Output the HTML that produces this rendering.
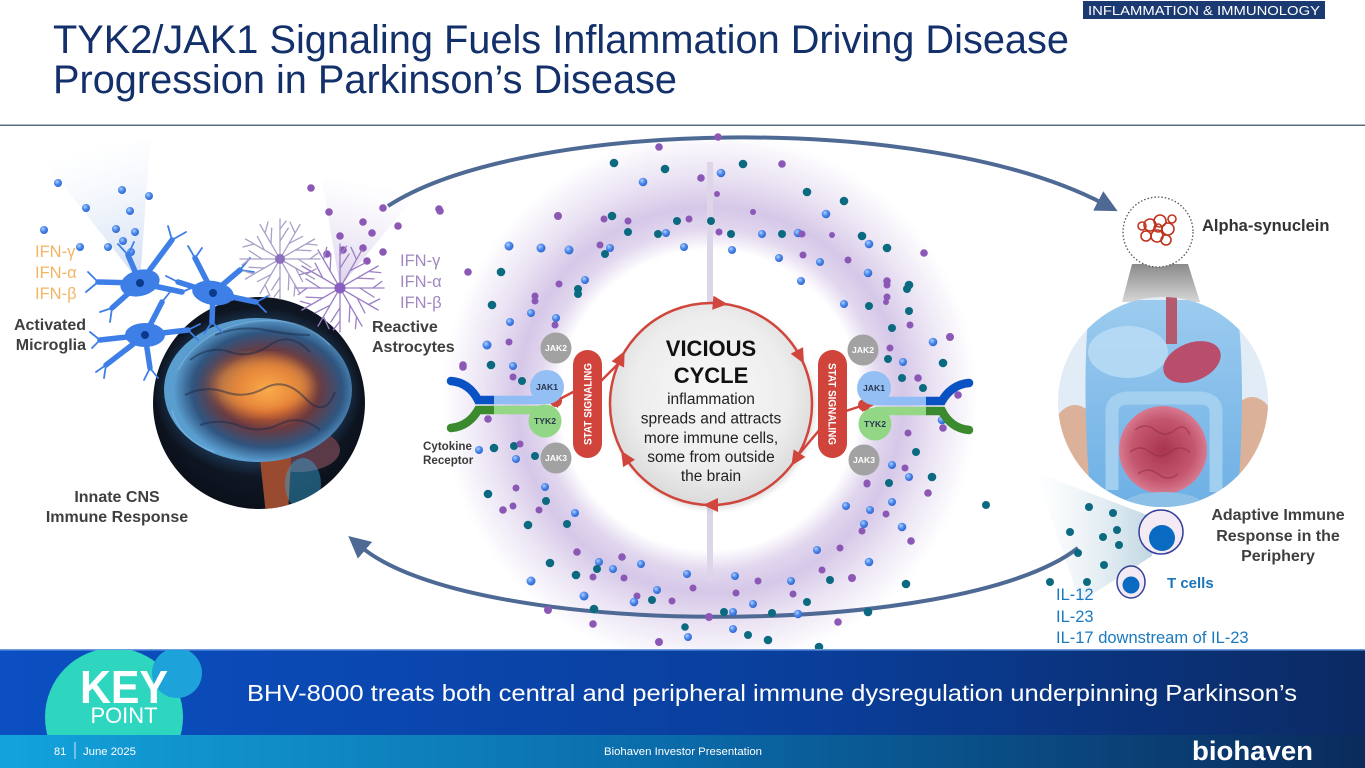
<!DOCTYPE html>
<html><head><meta charset="utf-8">
<style>
html,body{margin:0;padding:0;background:#fff;}
svg{display:block;font-family:"Liberation Sans",Arial,sans-serif;}
.t{fill:#0b6a80}.p{fill:#8b58b5}.b{fill:url(#gb)}
.lbl{font-weight:bold;fill:#3f3f3f;font-size:16px}
</style></head><body>
<svg width="1365" height="768" viewBox="0 0 1365 768" xmlns="http://www.w3.org/2000/svg">
<defs>
 <radialGradient id="gb" cx=".38" cy=".35" r=".7"><stop offset="0" stop-color="#b0d0ff"/><stop offset=".5" stop-color="#4a88ec"/><stop offset="1" stop-color="#2d62c8"/></radialGradient>
 <radialGradient id="ring" cx="710" cy="400" r="268" gradientUnits="userSpaceOnUse">
   <stop offset="0" stop-color="#8c64be" stop-opacity="0"/>
   <stop offset=".56" stop-color="#8c64be" stop-opacity="0"/>
   <stop offset=".64" stop-color="#8c64be" stop-opacity=".26"/>
   <stop offset=".72" stop-color="#8c64be" stop-opacity=".36"/>
   <stop offset=".84" stop-color="#8c64be" stop-opacity=".18"/>
   <stop offset="1" stop-color="#8c64be" stop-opacity="0"/>
 </radialGradient>
 <radialGradient id="vc" cx=".5" cy=".45" r=".55"><stop offset="0" stop-color="#f8f8f8"/><stop offset=".7" stop-color="#ededed"/><stop offset="1" stop-color="#dadada"/></radialGradient>
 <radialGradient id="brainG" cx=".55" cy=".5" r=".5"><stop offset="0" stop-color="#f6a448"/><stop offset=".3" stop-color="#d0602c"/><stop offset=".55" stop-color="#6a3a40"/><stop offset=".8" stop-color="#2f5580"/><stop offset="1" stop-color="#5a9ed0"/></radialGradient>
 <radialGradient id="bglow" cx=".5" cy=".5" r=".5"><stop offset=".6" stop-color="#2e6fa8" stop-opacity=".7"/><stop offset="1" stop-color="#2e6fa8" stop-opacity="0"/></radialGradient>
 <radialGradient id="bbg" cx=".5" cy=".45" r=".55"><stop offset="0" stop-color="#1d2a40"/><stop offset="1" stop-color="#0a0f18"/></radialGradient>
 <radialGradient id="gut" cx=".5" cy=".5" r=".5"><stop offset="0" stop-color="#a8344e"/><stop offset=".7" stop-color="#c4566e"/><stop offset="1" stop-color="#d77a90"/></radialGradient>
 <linearGradient id="torso" x1="0" y1="0" x2="0" y2="1"><stop offset="0" stop-color="#9ccbef"/><stop offset="1" stop-color="#6aaee4"/></linearGradient>
 <linearGradient id="cone" x1="0" y1="0" x2="0" y2="1"><stop offset="0" stop-color="#8a8a8a"/><stop offset="1" stop-color="#d6d6d6"/></linearGradient>
 <linearGradient id="pcone" x1="1155" y1="0" x2="1035" y2="0" gradientUnits="userSpaceOnUse"><stop offset="0" stop-color="#9cbfd2" stop-opacity=".65"/><stop offset="1" stop-color="#cfe0ea" stop-opacity="0"/></linearGradient>
 <linearGradient id="mcone" x1="140" y1="283" x2="95" y2="145" gradientUnits="userSpaceOnUse"><stop offset="0" stop-color="#b8cdee" stop-opacity=".7"/><stop offset="1" stop-color="#dfe8f6" stop-opacity="0"/></linearGradient>
 <linearGradient id="acone" x1="340" y1="287" x2="370" y2="180" gradientUnits="userSpaceOnUse"><stop offset="0" stop-color="#cbbde2" stop-opacity=".7"/><stop offset="1" stop-color="#e8e0f2" stop-opacity="0"/></linearGradient>
 <linearGradient id="kband" x1="0" y1="0" x2="1" y2="0"><stop offset="0" stop-color="#0b4fc2"/><stop offset=".6" stop-color="#0a3e9a"/><stop offset="1" stop-color="#0b2a63"/></linearGradient>
 <linearGradient id="fband" x1="0" y1="0" x2="1" y2="0"><stop offset="0" stop-color="#13a3db"/><stop offset=".5" stop-color="#0a6aa8"/><stop offset="1" stop-color="#0a2b5c"/></linearGradient>
 <clipPath id="brainC"><circle cx="259" cy="403" r="106"/></clipPath>
 <clipPath id="bodyC"><circle cx="1163" cy="402" r="105"/></clipPath>
 <clipPath id="bandC"><rect x="0" y="650" width="1365" height="85"/></clipPath>
 <filter id="blur3"><feGaussianBlur stdDeviation="3"/></filter>
 <filter id="blur6"><feGaussianBlur stdDeviation="6"/></filter>
 <marker id="ah" viewBox="0 0 10 10" refX="3" refY="5" markerWidth="5.5" markerHeight="5.5" orient="auto"><path d="M0,0 L10,5 L0,10 z" fill="#4e6a94"/></marker>
 <g id="astro" fill="none" stroke-linecap="round">
  <path d="M0,0L40,0M0,0L34.6,20M0,0L20,34.6M0,0L0,40M0,0L-20,34.6M0,0L-34.6,20M0,0L-40,0M0,0L-34.6,-20M0,0L-20,-34.6M0,0L0,-40M0,0L20,-34.6M0,0L34.6,-20"/>
  <path d="M18,0L30.9,8.3M15.6,9L22.6,22.6M9,15.6L8.3,30.9M0,18L-8.3,30.9M-9,15.6L-22.6,22.6M-15.6,9L-30.9,8.3M-18,0L-30.9,-8.3M-15.6,-9L-22.6,-22.6M-9,-15.6L-8.3,-30.9M0,-18L8.3,-30.9M9,-15.6L22.6,-22.6M15.6,-9L30.9,-8.3"/>
  <path d="M30,0L38,-6M26,15L36,10M15,26L14,37M0,30L-6,38M-15,26L-10,37M-26,15L-36,12M-30,0L-38,6M-26,-15L-37,-12M-15,-26L-12,-37M0,-30L6,-38M15,-26L10,-37M26,-15L37,-14"/>
 </g>
</defs>

<rect width="1365" height="768" fill="#fff"/>

<!-- header -->
<rect x="1083" y="1" width="242" height="18" fill="#1c3a72"/>
<text x="1088" y="15" font-size="13" fill="#fff" textLength="232" lengthAdjust="spacingAndGlyphs">INFLAMMATION &amp; IMMUNOLOGY</text>
<text x="53" y="53" font-size="39.7" fill="#13306a" textLength="1016" lengthAdjust="spacingAndGlyphs">TYK2/JAK1 Signaling Fuels Inflammation Driving Disease</text>
<text x="53" y="93" font-size="39.7" fill="#13306a" textLength="624" lengthAdjust="spacingAndGlyphs">Progression in Parkinson’s Disease</text>
<rect x="0" y="124.5" width="1365" height="1.5" fill="#5b6b84"/>

<!-- ring glow -->
<circle cx="710" cy="400" r="268" fill="url(#ring)"/>
<rect x="707" y="162" width="6" height="140" fill="#ddd5e8"/>
<rect x="707" y="500" width="6" height="81" fill="#ddd5e8"/>

<!-- cones -->
<polygon points="140,283 36,150 150,140" fill="url(#mcone)"/>
<polygon points="340,287 322,180 420,190" fill="url(#acone)"/>
<polygon points="1132,264 1188,264 1200,302 1122,302" fill="url(#cone)"/>
<polygon points="1155,518 1152,556 1080,602 1035,472" fill="url(#pcone)"/>

<!-- big arrows -->
<path d="M388,206 C520,120 925,110 1104,204" fill="none" stroke="#4e6a94" stroke-width="4" marker-end="url(#ah)"/>
<path d="M1078,548 C960,640 470,640 360,546" fill="none" stroke="#4e6a94" stroke-width="4" marker-end="url(#ah)"/>

<!-- dots -->
<g>
<circle class="p" cx="440" cy="211" r="3.8"/><circle class="t" cx="614" cy="163" r="4.3"/><circle class="p" cx="659" cy="147" r="3.8"/><circle class="p" cx="718" cy="137" r="3.8"/><circle class="t" cx="665" cy="169" r="4.3"/><circle class="b" cx="643" cy="182" r="4.3"/><circle class="p" cx="701" cy="178" r="3.8"/><circle class="b" cx="721" cy="173" r="4.3"/><circle class="p" cx="717" cy="194" r="3"/><circle class="t" cx="743" cy="164" r="4.3"/><circle class="p" cx="782" cy="164" r="3.8"/><circle class="t" cx="807" cy="192" r="4.3"/><circle class="t" cx="844" cy="201" r="4.3"/><circle class="b" cx="826" cy="214" r="4.3"/><circle class="p" cx="753" cy="212" r="3"/><circle class="p" cx="924" cy="253" r="3.8"/><circle class="t" cx="862" cy="236" r="4.3"/><circle class="b" cx="869" cy="244" r="4.3"/><circle class="t" cx="887" cy="248" r="4.3"/><circle class="b" cx="868" cy="273" r="4.3"/><circle class="p" cx="887" cy="281" r="3.8"/><circle class="t" cx="909" cy="285" r="4.3"/><circle class="p" cx="886" cy="302" r="3"/><circle class="p" cx="832" cy="235" r="3"/><circle class="b" cx="798" cy="233" r="4.3"/><circle class="p" cx="802" cy="234" r="3.5"/><circle class="t" cx="782" cy="234" r="4"/><circle class="b" cx="762" cy="234" r="4"/><circle class="t" cx="731" cy="234" r="4"/><circle class="p" cx="719" cy="232" r="3.5"/><circle class="b" cx="732" cy="250" r="4"/><circle class="b" cx="779" cy="258" r="4"/><circle class="b" cx="820" cy="262" r="4"/><circle class="p" cx="803" cy="255" r="3.5"/><circle class="p" cx="848" cy="260" r="3.5"/><circle class="b" cx="801" cy="281" r="4"/><circle class="t" cx="711" cy="221" r="4"/><circle class="p" cx="689" cy="219" r="3.5"/><circle class="t" cx="677" cy="221" r="4"/><circle class="t" cx="658" cy="234" r="4"/><circle class="b" cx="666" cy="233" r="4"/><circle class="t" cx="628" cy="232" r="4"/><circle class="p" cx="628" cy="221" r="3.5"/><circle class="t" cx="612" cy="216" r="4.3"/><circle class="p" cx="604" cy="219" r="3.5"/><circle class="b" cx="684" cy="247" r="4"/><circle class="p" cx="600" cy="245" r="3.5"/><circle class="b" cx="610" cy="248" r="4"/><circle class="t" cx="605" cy="254" r="4"/><circle class="p" cx="558" cy="216" r="4"/><circle class="b" cx="509" cy="246" r="4.5"/><circle class="b" cx="541" cy="248" r="4.5"/><circle class="b" cx="569" cy="250" r="4.5"/><circle class="p" cx="468" cy="272" r="3.8"/><circle class="t" cx="501" cy="272" r="4.3"/><circle class="p" cx="559" cy="284" r="3.5"/><circle class="b" cx="585" cy="280" r="4"/><circle class="t" cx="578" cy="294" r="4"/><circle class="p" cx="535" cy="301" r="3.5"/>
<circle class="t" cx="492" cy="305" r="4.3"/><circle class="p" cx="535" cy="296" r="3.5"/><circle class="t" cx="578" cy="289" r="4"/><circle class="b" cx="531" cy="313" r="4"/><circle class="b" cx="510" cy="322" r="4"/><circle class="b" cx="556" cy="318" r="4"/><circle class="p" cx="555" cy="325" r="3.5"/><circle class="b" cx="487" cy="345" r="4.5"/><circle class="p" cx="509" cy="342" r="3.5"/><circle class="t" cx="491" cy="365" r="4.3"/><circle class="p" cx="463" cy="367" r="3.8"/><circle class="b" cx="513" cy="366" r="4"/><circle class="p" cx="513" cy="377" r="3.5"/><circle class="t" cx="522" cy="381" r="4"/><circle class="p" cx="488" cy="419" r="3.8"/><circle class="b" cx="479" cy="450" r="4"/><circle class="t" cx="494" cy="448" r="4.3"/><circle class="t" cx="514" cy="446" r="4"/><circle class="p" cx="520" cy="444" r="3.5"/><circle class="b" cx="516" cy="459" r="4"/><circle class="t" cx="535" cy="456" r="4"/><circle class="p" cx="516" cy="488" r="3.5"/><circle class="t" cx="488" cy="494" r="4.3"/>
<circle class="b" cx="844" cy="304" r="4"/><circle class="t" cx="869" cy="306" r="4"/><circle class="p" cx="887" cy="285" r="3.5"/><circle class="t" cx="907" cy="289" r="4"/><circle class="p" cx="887" cy="297" r="3.5"/><circle class="t" cx="909" cy="311" r="4"/>
<circle class="t" cx="892" cy="328" r="4"/><circle class="p" cx="910" cy="325" r="3.5"/><circle class="b" cx="933" cy="342" r="4.3"/><circle class="p" cx="950" cy="337" r="4"/><circle class="p" cx="890" cy="348" r="3.5"/><circle class="t" cx="888" cy="359" r="4"/><circle class="b" cx="903" cy="362" r="4"/><circle class="t" cx="943" cy="363" r="4.3"/><circle class="t" cx="902" cy="378" r="4"/><circle class="p" cx="918" cy="378" r="3.8"/><circle class="t" cx="923" cy="388" r="4"/><circle class="p" cx="958" cy="395" r="3.8"/><circle class="b" cx="942" cy="420" r="4.3"/><circle class="p" cx="943" cy="428" r="3.8"/><circle class="p" cx="908" cy="433" r="3.5"/><circle class="t" cx="916" cy="452" r="4"/><circle class="b" cx="892" cy="465" r="4"/><circle class="p" cx="905" cy="468" r="3.5"/><circle class="b" cx="909" cy="477" r="4"/><circle class="t" cx="932" cy="477" r="4.3"/><circle class="p" cx="867" cy="483" r="3.5"/><circle class="t" cx="889" cy="483" r="4"/><circle class="p" cx="928" cy="493" r="3.8"/><circle class="t" cx="986" cy="505" r="4"/>
<circle class="p" cx="503" cy="510" r="3.8"/><circle class="p" cx="513" cy="506" r="3.5"/><circle class="p" cx="539" cy="510" r="3.5"/><circle class="b" cx="545" cy="487" r="4"/><circle class="t" cx="546" cy="501" r="4"/><circle class="t" cx="528" cy="525" r="4.3"/><circle class="t" cx="567" cy="524" r="4"/><circle class="b" cx="575" cy="513" r="4"/><circle class="p" cx="577" cy="552" r="3.8"/><circle class="p" cx="622" cy="557" r="3.8"/><circle class="t" cx="550" cy="563" r="4.3"/><circle class="b" cx="599" cy="562" r="4"/><circle class="t" cx="597" cy="569" r="4"/><circle class="b" cx="613" cy="569" r="4"/><circle class="b" cx="641" cy="564" r="4"/><circle class="b" cx="531" cy="581" r="4.5"/><circle class="t" cx="576" cy="575" r="4.3"/><circle class="p" cx="593" cy="577" r="3.5"/><circle class="p" cx="624" cy="578" r="3.5"/><circle class="b" cx="584" cy="596" r="4.5"/><circle class="p" cx="637" cy="596" r="3.5"/><circle class="b" cx="634" cy="602" r="4.3"/><circle class="b" cx="657" cy="590" r="4"/><circle class="t" cx="652" cy="600" r="4"/><circle class="p" cx="672" cy="601" r="3.5"/><circle class="b" cx="687" cy="574" r="4"/><circle class="p" cx="693" cy="588" r="3.5"/><circle class="p" cx="548" cy="610" r="4"/><circle class="t" cx="594" cy="609" r="4.3"/><circle class="p" cx="593" cy="624" r="3.8"/><circle class="p" cx="709" cy="617" r="4"/><circle class="t" cx="724" cy="612" r="4"/><circle class="b" cx="733" cy="612" r="4"/><circle class="b" cx="735" cy="576" r="4"/><circle class="p" cx="736" cy="593" r="3.5"/><circle class="b" cx="753" cy="604" r="4"/><circle class="p" cx="758" cy="581" r="3.5"/><circle class="b" cx="791" cy="581" r="4"/><circle class="p" cx="793" cy="594" r="3.5"/><circle class="t" cx="807" cy="602" r="4"/><circle class="t" cx="772" cy="613" r="4"/><circle class="b" cx="798" cy="614" r="4.3"/><circle class="t" cx="685" cy="627" r="3.8"/><circle class="b" cx="688" cy="637" r="4"/><circle class="b" cx="733" cy="629" r="4"/><circle class="t" cx="748" cy="635" r="4"/><circle class="t" cx="768" cy="640" r="4.3"/><circle class="p" cx="659" cy="642" r="4"/><circle class="t" cx="819" cy="647" r="4.3"/><circle class="p" cx="838" cy="622" r="3.8"/><circle class="t" cx="868" cy="612" r="4.3"/><circle class="t" cx="830" cy="580" r="4"/><circle class="p" cx="852" cy="578" r="4"/><circle class="p" cx="822" cy="570" r="3.5"/><circle class="b" cx="817" cy="550" r="4"/><circle class="p" cx="840" cy="548" r="3.5"/><circle class="b" cx="869" cy="562" r="4.3"/><circle class="t" cx="906" cy="584" r="4.3"/><circle class="p" cx="911" cy="541" r="3.8"/><circle class="b" cx="902" cy="527" r="4.3"/><circle class="p" cx="862" cy="531" r="3.5"/><circle class="b" cx="864" cy="524" r="4"/><circle class="p" cx="886" cy="514" r="3.5"/><circle class="b" cx="870" cy="510" r="4"/><circle class="b" cx="892" cy="502" r="4"/><circle class="b" cx="846" cy="506" r="4"/><circle class="p" cx="867" cy="484" r="3.5"/>
<circle class="b" cx="58" cy="183" r="4"/><circle class="b" cx="122" cy="190" r="4"/><circle class="b" cx="149" cy="196" r="4"/><circle class="b" cx="86" cy="208" r="4"/><circle class="b" cx="130" cy="211" r="4"/><circle class="b" cx="44" cy="230" r="4"/><circle class="b" cx="116" cy="229" r="4"/><circle class="b" cx="135" cy="232" r="4"/><circle class="b" cx="123" cy="241" r="4"/><circle class="b" cx="108" cy="247" r="4"/><circle class="b" cx="131" cy="252" r="4"/><circle class="b" cx="80" cy="247" r="4"/>
<circle class="p" cx="311" cy="188" r="3.8"/><circle class="p" cx="329" cy="212" r="3.8"/><circle class="p" cx="383" cy="208" r="3.8"/><circle class="p" cx="439" cy="209" r="3.8"/><circle class="p" cx="363" cy="222" r="3.8"/><circle class="p" cx="398" cy="226" r="3.8"/><circle class="p" cx="340" cy="236" r="3.8"/><circle class="p" cx="372" cy="233" r="3.8"/><circle class="p" cx="363" cy="248" r="3.8"/><circle class="p" cx="383" cy="252" r="3.8"/><circle class="p" cx="327" cy="254" r="3.8"/><circle class="p" cx="343" cy="250" r="3.8"/><circle class="p" cx="367" cy="261" r="3.8"/><circle class="p" cx="463" cy="365" r="3.8"/>
<circle class="t" cx="1089" cy="507" r="4"/><circle class="t" cx="1113" cy="513" r="4"/><circle class="t" cx="1070" cy="532" r="4"/><circle class="t" cx="1103" cy="537" r="4"/><circle class="t" cx="1117" cy="530" r="4"/><circle class="t" cx="1119" cy="545" r="4"/><circle class="t" cx="1078" cy="553" r="4"/><circle class="t" cx="1104" cy="565" r="4"/><circle class="t" cx="1050" cy="582" r="4"/><circle class="t" cx="1087" cy="582" r="4"/>
</g>

<!-- vicious cycle circle -->
<circle cx="713" cy="407" r="102" fill="#000" opacity=".12" filter="url(#blur3)"/>
<circle cx="711" cy="404" r="101" fill="url(#vc)" stroke="#d0463c" stroke-width="2.5"/>
<g fill="#d0463c">
 <polygon transform="translate(711,404) rotate(-85)" points="101,8 94,-7 108,-7"/>
 <polygon transform="translate(711,404) rotate(-28)" points="101,8 94,-7 108,-7"/>
 <polygon transform="translate(711,404) rotate(33)" points="101,8 94,-7 108,-7"/>
 <polygon transform="translate(711,404) rotate(90)" points="101,8 94,-7 108,-7"/>
 <polygon transform="translate(711,404) rotate(148)" points="101,8 94,-7 108,-7"/>
 <polygon transform="translate(711,404) rotate(207)" points="101,8 94,-7 108,-7"/>
</g>
<g stroke="#d0463c" stroke-width="2.5" fill="none">
 <path d="M600,382 L621,361"/>
 <path d="M821,428 L800,453"/>
 <path d="M575,391 L556,401"/>
 <path d="M846,411 L864,405"/>
</g>
<text x="711" y="356" text-anchor="middle" font-size="22" font-weight="bold" fill="#111">VICIOUS</text>
<text x="711" y="383" text-anchor="middle" font-size="22" font-weight="bold" fill="#111">CYCLE</text>
<g font-size="15.5" fill="#222" text-anchor="middle">
 <text x="711" y="404">inflammation</text>
 <text x="711" y="423.5">spreads and attracts</text>
 <text x="711" y="443">more immune cells,</text>
 <text x="711" y="462">some from outside</text>
 <text x="711" y="481">the brain</text>
</g>

<!-- pills -->
<rect x="573" y="350" width="29" height="108" rx="14.5" fill="#d0443c"/>
<rect x="818" y="350" width="29" height="108" rx="14.5" fill="#d0443c"/>
<text transform="translate(591.5,404) rotate(-90)" text-anchor="middle" font-size="11" font-weight="bold" fill="#fff" textLength="82" lengthAdjust="spacingAndGlyphs">STAT SIGNALING</text>
<text transform="translate(828.5,404) rotate(90)" text-anchor="middle" font-size="11" font-weight="bold" fill="#fff" textLength="82" lengthAdjust="spacingAndGlyphs">STAT SIGNALING</text>

<!-- receptors -->
<g fill="none" stroke-width="8.5" stroke-linecap="round">
 <path d="M451,381 C464,382 473,390 478,400 L494,400" stroke="#0a52c4"/>
 <path d="M494,400 L545,400" stroke="#90bdf6" stroke-linecap="butt"/>
 <path d="M451,428 C464,427 473,419 478,410 L494,410" stroke="#3b8a2e"/>
 <path d="M494,410 L545,410" stroke="#94d886" stroke-linecap="butt"/>
 <path d="M969,383 C956,384 947,392 942,401 L926,401" stroke="#0a52c4"/>
 <path d="M926,401 L875,401" stroke="#90bdf6" stroke-linecap="butt"/>
 <path d="M969,430 C956,429 947,421 942,411 L926,411" stroke="#3b8a2e"/>
 <path d="M926,411 L875,411" stroke="#94d886" stroke-linecap="butt"/>
</g>
<circle cx="556" cy="401" r="6" fill="#d0463c"/>
<circle cx="864" cy="405" r="6" fill="#d0463c"/>
<polygon points="546,401 558,394 558,408" fill="#d0463c"/>
<polygon points="874,405 862,398 862,412" fill="#d0463c"/>
<g font-size="8.6" font-weight="bold" text-anchor="middle">
 <circle cx="556" cy="348" r="15.5" fill="#a2a2a2"/><text x="556" y="351" fill="#fff">JAK2</text>
 <circle cx="547" cy="387" r="17" fill="#93bff4"/><text x="547" y="390" fill="#2b3550">JAK1</text>
 <circle cx="545" cy="421" r="16.5" fill="#92d786"/><text x="545" y="424" fill="#2b3550">TYK2</text>
 <circle cx="556" cy="458" r="15.5" fill="#a2a2a2"/><text x="556" y="461" fill="#fff">JAK3</text>
 <circle cx="863" cy="350" r="15.5" fill="#a2a2a2"/><text x="863" y="353" fill="#fff">JAK2</text>
 <circle cx="874" cy="388" r="17" fill="#93bff4"/><text x="874" y="391" fill="#2b3550">JAK1</text>
 <circle cx="875" cy="424" r="16.5" fill="#92d786"/><text x="875" y="427" fill="#2b3550">TYK2</text>
 <circle cx="864" cy="460" r="15.5" fill="#a2a2a2"/><text x="864" y="463" fill="#fff">JAK3</text>
</g>
<text x="423" y="450" font-size="11.6" font-weight="bold" fill="#3a3a3a">Cytokine</text>
<text x="423" y="464" font-size="11.6" font-weight="bold" fill="#3a3a3a">Receptor</text>

<!-- brain -->
<g clip-path="url(#brainC)">
 <rect x="150" y="295" width="220" height="220" fill="url(#bbg)"/>
 <ellipse cx="258" cy="392" rx="104" ry="84" fill="url(#bglow)"/>
 <ellipse cx="298" cy="450" rx="42" ry="22" fill="#5a3a46"/>
 <path d="M258,440 L292,440 L288,515 L266,515 z" fill="#9a4a2e"/>
 <ellipse cx="303" cy="484" rx="18" ry="26" fill="#38a6d8" opacity=".45"/>
 <ellipse cx="258" cy="390" rx="94" ry="72" fill="url(#brainG)"/>
 <ellipse cx="262" cy="385" rx="50" ry="28" fill="#ffb24e" opacity=".5" filter="url(#blur6)"/>
 <g fill="none" stroke="#1a2a48" stroke-width="2" opacity=".5">
  <path d="M190,360 Q210,345 230,352 T270,345 T310,352"/>
  <path d="M185,395 Q205,385 225,392 T265,388 T305,398 T335,392"/>
  <path d="M200,425 Q220,418 240,426 T280,424 T320,430"/>
  <path d="M215,335 Q240,325 265,330 T310,335"/>
 </g>
 <g fill="none" stroke="#8cc4ec" stroke-width="1.5" opacity=".45">
  <path d="M178,370 Q200,330 250,322 T330,345"/>
  <path d="M172,410 Q180,440 215,452"/>
 </g>
</g>

<!-- microglia -->
<g stroke="#3d7fe6" stroke-linecap="round" fill="none">
 <g stroke-width="5.5">
  <path d="M140,283L98,282M140,283L172,240M140,283L182,292M140,283L112,308M140,283L128,255"/>
  <path d="M213,293L195,258M213,293L256,302M213,293L178,282M213,293L212,322M213,293L240,270"/>
  <path d="M145,335L106,365M145,335L100,340M145,335L162,302M145,335L188,330M145,335L150,368"/>
 </g>
 <g stroke-width="1.8">
  <path d="M98,282L88,272M98,282L86,292M172,240L168,226M172,240L186,232M182,292L196,286M112,308L100,312M112,308L110,322M128,255L118,244M128,255L134,242"/>
  <path d="M195,258L188,246M195,258L202,248M256,302L268,296M256,302L266,312M178,282L166,276M212,322L204,334M212,322L222,332M240,270L250,258M240,270L254,272"/>
  <path d="M106,365L96,372M106,365L104,378M100,340L90,332M100,340L92,348M162,302L170,292M188,330L200,324M188,330L198,340M150,368L144,380M150,368L158,378"/>
 </g>
</g>
<g fill="#3d7fe6">
 <ellipse cx="140" cy="283" rx="20" ry="13" transform="rotate(-15 140 283)"/>
 <ellipse cx="213" cy="293" rx="21" ry="12" transform="rotate(10 213 293)"/>
 <ellipse cx="145" cy="335" rx="20" ry="12"/>
</g>
<g fill="#0b3a8c"><circle cx="140" cy="283" r="4"/><circle cx="213" cy="293" r="4"/><circle cx="145" cy="335" r="4"/></g>

<!-- astrocytes -->
<use href="#astro" transform="translate(280,259)" stroke="#aaa0c6" stroke-width="1.3"/>
<use href="#astro" transform="translate(340,288) scale(1.1)" stroke="#9c80c6" stroke-width="1.2"/>
<circle cx="280" cy="259" r="5" fill="#8c70c0"/>
<circle cx="340" cy="288" r="5.5" fill="#8a5ec0"/>

<!-- body -->
<g clip-path="url(#bodyC)">
 <rect x="1050" y="290" width="230" height="230" fill="#e2ecf6"/>
 <ellipse cx="1075" cy="470" rx="32" ry="65" fill="#dba78a" opacity=".85"/>
 <ellipse cx="1252" cy="462" rx="32" ry="65" fill="#dba78a" opacity=".85"/>
 <path d="M1090,300 Q1080,380 1092,520 L1236,520 Q1248,380 1236,300 z" fill="url(#torso)"/>
 <ellipse cx="1128" cy="352" rx="40" ry="26" fill="#b8dcf6" opacity=".85"/>
 <rect x="1166" y="292" width="11" height="52" fill="#b45a6e"/>
 <ellipse cx="1192" cy="362" rx="30" ry="19" transform="rotate(-22 1192 362)" fill="#b84e6c"/>
 <path d="M1112,490 L1112,412 Q1112,398 1130,398 L1198,398 Q1216,398 1216,412 L1216,492" fill="none" stroke="#a6d2f0" stroke-width="13" opacity=".9"/>
 <ellipse cx="1163" cy="450" rx="44" ry="44" fill="url(#gut)"/>
 <g fill="none" stroke="#8e2c46" stroke-width="1.5" opacity=".5">
  <path d="M1135,430 q10,-8 20,0 t20,0 t15,5"/><path d="M1130,452 q10,-8 20,0 t20,0 t20,0"/><path d="M1138,474 q10,-8 20,0 t20,0"/>
 </g>
 <ellipse cx="1163" cy="505" rx="40" ry="13" fill="#8cc0e6"/>
</g>

<!-- alpha-synuclein -->
<circle cx="1158" cy="232" r="35" fill="#fff" stroke="#555" stroke-width="1.3" stroke-dasharray="1.5 2"/>
<g fill="none" stroke="#c0341e" stroke-width="1.6">
 <circle cx="1150" cy="225" r="6"/><circle cx="1160" cy="221" r="6"/><circle cx="1168" cy="229" r="6"/><circle cx="1157" cy="236" r="6"/><circle cx="1146" cy="236" r="5"/><circle cx="1166" cy="240" r="5"/><circle cx="1158" cy="228" r="4"/><circle cx="1172" cy="219" r="4"/><circle cx="1142" cy="226" r="4"/>
</g>
<text x="1202" y="231" font-size="16.5" font-weight="bold" fill="#333">Alpha-synuclein</text>

<!-- T cells -->
<ellipse cx="1161" cy="532" rx="22" ry="22" fill="#f3eaf4" stroke="#34409a" stroke-width="1.5"/>
<circle cx="1162" cy="538" r="13" fill="#0a6ac2"/>
<ellipse cx="1131" cy="582" rx="14" ry="16" fill="#f3eaf4" stroke="#34409a" stroke-width="1.5"/>
<circle cx="1131" cy="585" r="8.5" fill="#0a6ac2"/>
<text x="1167" y="588" font-size="15" font-weight="bold" fill="#1b75bb">T cells</text>

<!-- labels -->
<g font-size="16.5" fill="#f4b463">
 <text x="35" y="257">IFN-γ</text><text x="35" y="278">IFN-α</text><text x="35" y="299">IFN-β</text>
</g>
<g font-size="16.5" fill="#a088c0">
 <text x="400" y="266">IFN-γ</text><text x="400" y="287">IFN-α</text><text x="400" y="308">IFN-β</text>
</g>
<text class="lbl" x="86" y="330" text-anchor="end">Activated</text>
<text class="lbl" x="86" y="350" text-anchor="end">Microglia</text>
<text class="lbl" x="372" y="332">Reactive</text>
<text class="lbl" x="372" y="352">Astrocytes</text>
<text class="lbl" x="117" y="502" text-anchor="middle">Innate CNS</text>
<text class="lbl" x="117" y="522" text-anchor="middle">Immune Response</text>
<text class="lbl" x="1278" y="520" text-anchor="middle">Adaptive Immune</text>
<text class="lbl" x="1278" y="541" text-anchor="middle">Response in the</text>
<text class="lbl" x="1278" y="561" text-anchor="middle">Periphery</text>
<g font-size="16.5" fill="#1a7ac0">
 <text x="1056" y="600">IL-12</text><text x="1056" y="622">IL-23</text><text x="1056" y="643">IL-17 downstream of IL-23</text>
</g>

<!-- footer -->
<rect x="0" y="650" width="1365" height="85" fill="url(#kband)"/>
<rect x="0" y="649" width="1365" height="1.5" fill="#6f9ee0"/>
<g clip-path="url(#bandC)">
 <circle cx="114" cy="717" r="69" fill="#2fd6bf"/>
 <circle cx="177" cy="673" r="25" fill="#1ea2da"/>
</g>
<text x="124" y="703" text-anchor="middle" font-size="46" font-weight="bold" fill="#fff" textLength="88" lengthAdjust="spacingAndGlyphs">KEY</text>
<text x="124" y="723" text-anchor="middle" font-size="22" fill="#fff" textLength="67" lengthAdjust="spacingAndGlyphs">POINT</text>
<text x="247" y="701" font-size="23" fill="#fff" textLength="1050" lengthAdjust="spacingAndGlyphs">BHV-8000 treats both central and peripheral immune dysregulation underpinning Parkinson’s</text>
<rect x="0" y="735" width="1365" height="33" fill="url(#fband)"/>
<text x="54" y="755" font-size="11" fill="#fff">81</text>
<rect x="74.5" y="742" width="1" height="17" fill="#cfe8f5"/>
<text x="83" y="755" font-size="11" fill="#fff" textLength="53" lengthAdjust="spacingAndGlyphs">June 2025</text>
<text x="604" y="755" font-size="11" fill="#fff" textLength="158" lengthAdjust="spacingAndGlyphs">Biohaven Investor Presentation</text>
<text x="1192" y="760" font-size="27" font-weight="bold" fill="#fff" textLength="121" lengthAdjust="spacingAndGlyphs">biohaven</text>
</svg>
</body></html>
